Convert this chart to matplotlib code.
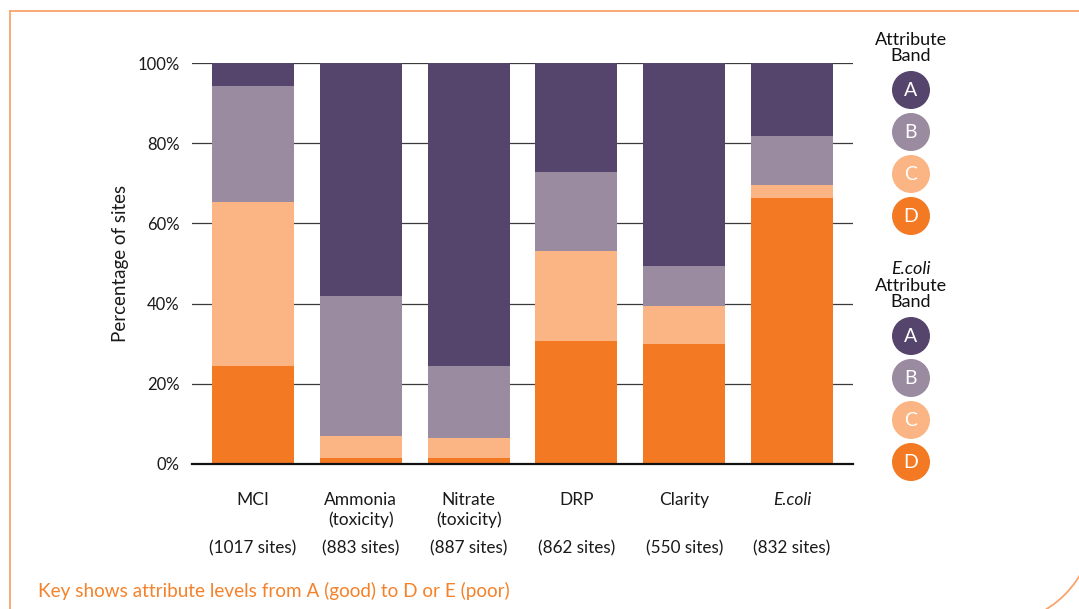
import numpy as np
import matplotlib
matplotlib.use("Agg")
import matplotlib.pyplot as plt
from matplotlib.patches import Circle, Arc

plt.rcParams['font.family'] = ['Lato', 'DejaVu Sans']

# attribute band shares (% of sites), bottom band D up to A
categories = ['MCI', 'Ammonia\n(toxicity)', 'Nitrate\n(toxicity)', 'DRP', 'Clarity', 'E.coli']
site_counts = ['(1017 sites)', '(883 sites)', '(887 sites)', '(862 sites)', '(550 sites)', '(832 sites)']
band_D = [24.5, 1.6, 1.6, 30.7, 30.0, 66.4]
band_C = [40.9, 5.5, 5.0, 22.5, 9.5, 3.3]
band_B = [28.9, 34.9, 17.9, 19.5, 10.0, 12.2]
band_A = [5.7, 58.0, 75.5, 27.3, 50.5, 18.1]

bands = ['A', 'B', 'C', 'D']
colours = {'A': '#55446B', 'B': '#9A8BA0', 'C': '#FBB585', 'D': '#F37923'}
orange = '#F5822A'
frame_col = '#F8A46C'

fig = plt.figure(figsize=(10.79, 6.09), dpi=100)

# frame and legend drawn on a pixel-unit overlay
bg = fig.add_axes([0, 0, 1, 1])
bg.set_xlim(0, 1079)
bg.set_ylim(609, 0)
bg.axis('off')
bg.plot([9.5, 1079], [10.5, 10.5], color=frame_col, lw=1.3)
bg.plot([9.5, 9.5], [10.5, 609], color=frame_col, lw=1.3)
bg.add_patch(Arc((994, 524), 200, 200, theta1=0, theta2=90, color=frame_col, lw=1.3))

ax = fig.add_axes([192 / 1079, 1 - 464 / 609, (853 - 192) / 1079, (464 - 63) / 609])
x = np.arange(len(categories))
bottom = np.zeros(len(categories))
for name, vals in zip(['D', 'C', 'B', 'A'], [band_D, band_C, band_B, band_A]):
    ax.bar(x, vals, bottom=bottom, width=0.76, color=colours[name], zorder=3)
    bottom += np.array(vals)

ax.set_xlim(-0.565, 5.565)
ax.set_ylim(0, 100)
ax.set_yticks([0, 20, 40, 60, 80, 100])
ax.set_yticklabels(['0%', '20%', '40%', '60%', '80%', '100%'], fontsize=12, color='#1a1a1a')
ax.tick_params(axis='y', length=0, pad=9)
ax.set_xticks([])
ax.grid(axis='y', color='#3a3a3a', linewidth=0.9, zorder=1)
for s in ['top', 'right', 'left']:
    ax.spines[s].set_visible(False)
ax.spines['bottom'].set_linewidth(1.6)
ax.spines['bottom'].set_color('#111111')
ax.spines['bottom'].set_zorder(4)
ax.set_ylabel('Percentage of sites', fontsize=13.5, color='#1a1a1a', labelpad=6)

for i, (cat, sites) in enumerate(zip(categories, site_counts)):
    style = 'italic' if cat == 'E.coli' else 'normal'
    ax.text(i, -0.07, cat, transform=ax.get_xaxis_transform(), ha='center', va='top',
            fontsize=12.5, style=style, color='#1a1a1a', linespacing=1.25)
    ax.text(i, -0.211, sites, transform=ax.get_xaxis_transform(), ha='center', va='center',
            fontsize=12.3, color='#1a1a1a')

fig.text(38 / 1079, 1 - 591 / 609, 'Key shows attribute levels from A (good) to D or E (poor)',
         color=orange, fontsize=13.6, ha='left', va='center')

# legend: two stacks of band circles
legend_x = 911
bg.text(legend_x, 48, 'Attribute\nBand', ha='center', va='center', fontsize=13,
        color='#111111', linespacing=0.95)
bg.text(legend_x, 269, 'E.coli', ha='center', va='center', fontsize=13,
        style='italic', color='#111111')
bg.text(legend_x, 294, 'Attribute\nBand', ha='center', va='center', fontsize=13,
        color='#111111', linespacing=0.95)
for ys in ([90, 132, 174, 216], [336, 378, 420, 462]):
    for b, yc in zip(bands, ys):
        bg.add_patch(Circle((legend_x, yc), 18.3, color=colours[b]))
        bg.text(legend_x, yc + 1, b, ha='center', va='center', fontsize=14, color='white')

fig.savefig('out.png', dpi=100)
